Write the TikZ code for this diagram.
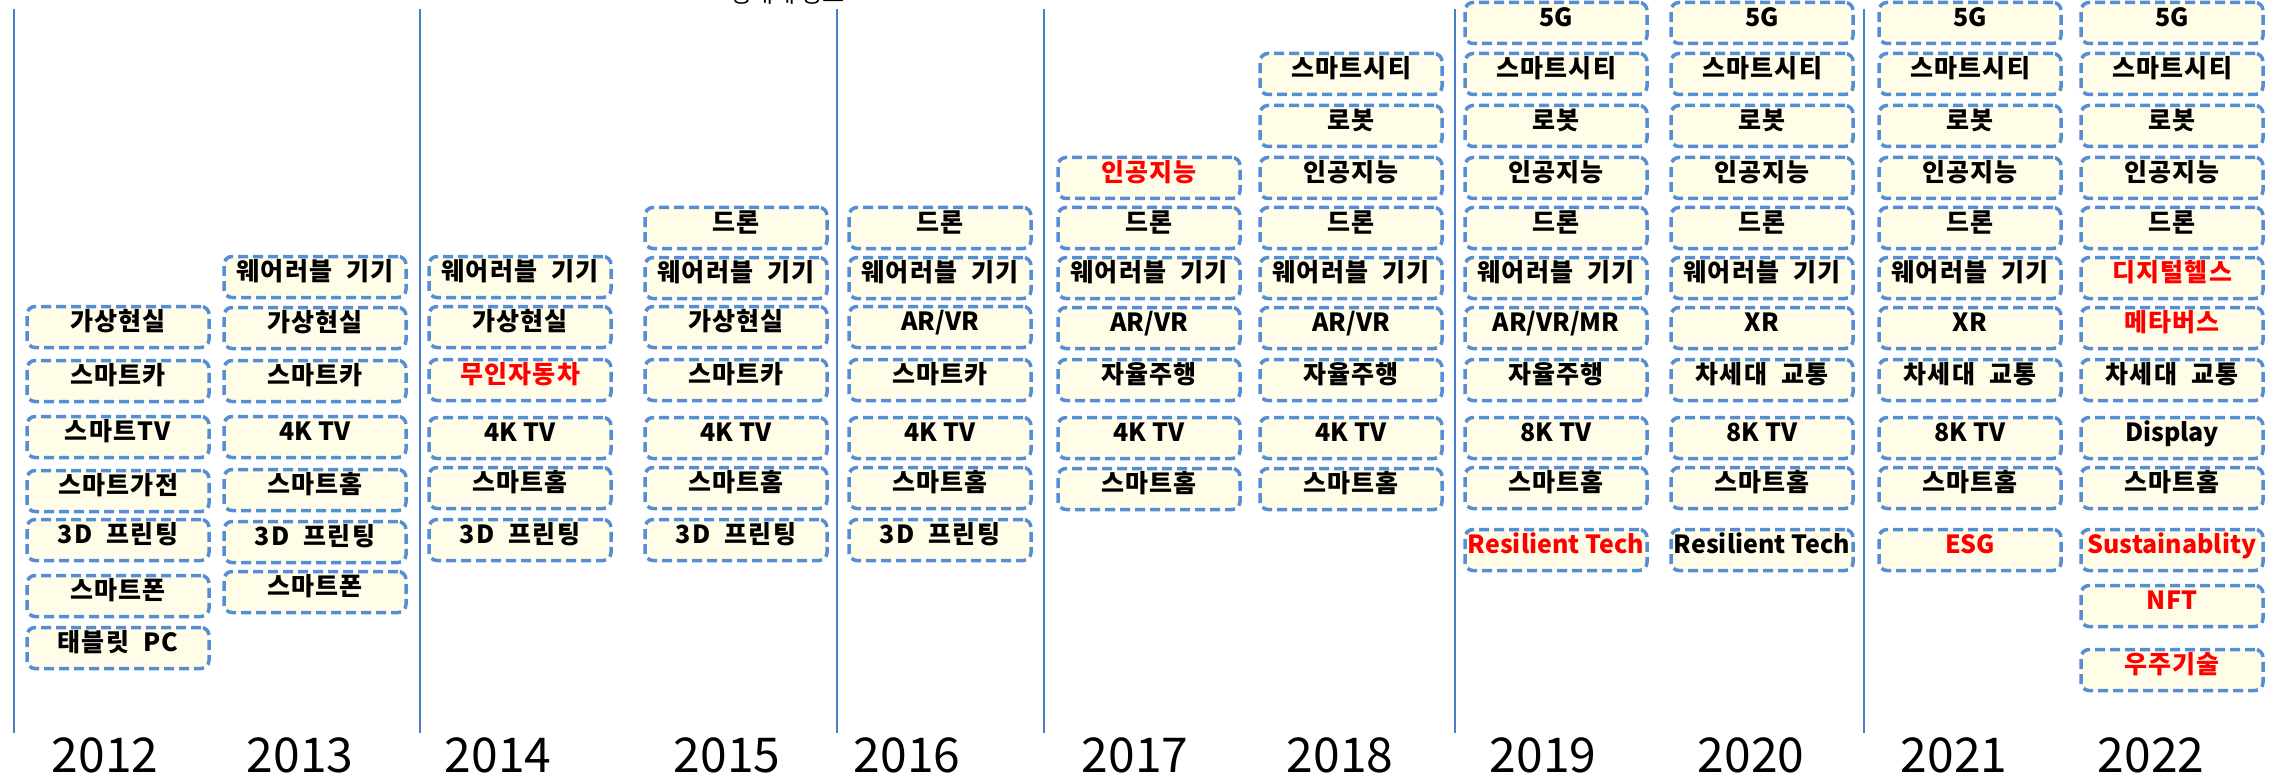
\documentclass[tikz,border=0pt]{standalone}
\usepackage{fontspec}
\newfontfamily\kr{Noto Sans CJK KR}
\newfontfamily\krs[LetterSpace=5,WordSpace=2]{Noto Sans CJK KR}
\definecolor{boxblue}{RGB}{85,142,213}
\definecolor{boxfill}{RGB}{255,253,231}
\definecolor{linblue}{RGB}{74,126,198}
\definecolor{txtred}{RGB}{255,0,0}
\tikzset{
  tbox/.style={draw=boxblue, line width=3.5pt, dash pattern=on 10pt off 5pt,
    rounded corners=8pt, fill=boxfill, minimum width=182pt, minimum height=41pt,
    inner sep=0pt, text height=0.82em, text depth=0.08em,
    font=\krs\bfseries\fontsize{25}{30}\selectfont},
  lat/.style={font=\kr\bfseries\fontsize{25}{30}\selectfont},
  yearlbl/.style={font=\kr\fontsize{48}{52}\selectfont, anchor=base, inner sep=0pt},
  vline/.style={draw=linblue, line width=2pt},
  toplbl/.style={font=\kr\fontsize{24}{28}\selectfont, anchor=base, inner sep=0pt}
}
\newcommand\bx[5][black]{\node[tbox, text=#1] (#2) at (#3,#4) {#5};}
\newcommand\lx[5][black]{\node[tbox, lat, text=#1] (#2) at (#3,#4) {#5};}
\begin{document}
\begin{tikzpicture}[x=1pt,y=-1pt]
\useasboundingbox (0,0) rectangle (2293,778);
% vertical separators
\foreach \i/\xx in {1/14,2/420,3/837,4/1044,5/1455,6/1864}{
  \coordinate (t\i) at (\xx,9);
  \coordinate (b\i) at (\xx,733);
  \draw[vline] (t\i) -- (b\i);
}
\node[toplbl] (note) at (787,3) {생태계 정보};
% 2012
\bx{a1}{118}{327}{가상현실}
\bx{a2}{118}{381}{스마트카}
\bx{a3}{118}{437}{스마트TV}
\bx{a4}{118}{491}{스마트가전}
\bx{a5}{118}{540}{3D 프린팅}
\bx{a6}{118}{596}{스마트폰}
\bx{a7}{118}{648}{태블릿 PC}
% 2013
\bx{b0}{315}{277}{웨어러블 기기}
\bx{b1}{315}{328}{가상현실}
\bx{b2}{315}{381}{스마트카}
\lx{b3}{315}{437}{4K TV}
\bx{b4}{315}{490}{스마트홈}
\bx{b5}{315}{542}{3D 프린팅}
\bx{b6}{315}{592}{스마트폰}
% 2014
\bx{c0}{520}{277}{웨어러블 기기}
\bx{c1}{520}{327}{가상현실}
\bx[txtred]{c2}{520}{380}{무인자동차}
\lx{c3}{520}{438}{4K TV}
\bx{c4}{520}{488}{스마트홈}
\bx{c5}{520}{540}{3D 프린팅}
% 2015
\bx{d0}{736}{228}{드론}
\bx{d1}{736}{278}{웨어러블 기기}
\bx{d2}{736}{327}{가상현실}
\bx{d3}{736}{380}{스마트카}
\lx{d4}{736}{438}{4K TV}
\bx{d5}{736}{488}{스마트홈}
\bx{d6}{736}{540}{3D 프린팅}
% 2016
\bx{e0}{940}{228}{드론}
\bx{e1}{940}{278}{웨어러블 기기}
\lx{e2}{940}{327}{AR/VR}
\bx{e3}{940}{380}{스마트카}
\lx{e4}{940}{438}{4K TV}
\bx{e5}{940}{488}{스마트홈}
\bx{e6}{940}{540}{3D 프린팅}
% 2017
\bx[txtred]{f0}{1149}{178}{인공지능}
\bx{f1}{1149}{228}{드론}
\bx{f2}{1149}{278}{웨어러블 기기}
\lx{f3}{1149}{328}{AR/VR}
\bx{f4}{1149}{380}{자율주행}
\lx{f5}{1149}{438}{4K TV}
\bx{f6}{1149}{489}{스마트홈}
% 2018
\bx{g0}{1351}{74}{스마트시티}
\bx{g1}{1351}{126}{로봇}
\bx{g2}{1351}{178}{인공지능}
\bx{g3}{1351}{228}{드론}
\bx{g4}{1351}{278}{웨어러블 기기}
\lx{g5}{1351}{328}{AR/VR}
\bx{g6}{1351}{380}{자율주행}
\lx{g7}{1351}{438}{4K TV}
\bx{g8}{1351}{489}{스마트홈}
% 2019
\lx{h0}{1556}{23}{5G}
\bx{h1}{1556}{74}{스마트시티}
\bx{h2}{1556}{126}{로봇}
\bx{h3}{1556}{178}{인공지능}
\bx{h4}{1556}{228}{드론}
\bx{h5}{1556}{278}{웨어러블 기기}
\lx{h6}{1556}{328}{AR/VR/MR}
\bx{h7}{1556}{380}{자율주행}
\lx{h8}{1556}{438}{8K TV}
\bx{h9}{1556}{488}{스마트홈}
\lx[txtred]{h10}{1556}{550}{Resilient Tech}
% 2020
\lx{i0}{1762}{23}{5G}
\bx{i1}{1762}{74}{스마트시티}
\bx{i2}{1762}{126}{로봇}
\bx{i3}{1762}{178}{인공지능}
\bx{i4}{1762}{228}{드론}
\bx{i5}{1762}{278}{웨어러블 기기}
\lx{i6}{1762}{328}{XR}
\bx{i7}{1762}{380}{차세대 교통}
\lx{i8}{1762}{438}{8K TV}
\bx{i9}{1762}{488}{스마트홈}
\lx{i10}{1762}{550}{Resilient Tech}
% 2021
\lx{j0}{1970}{23}{5G}
\bx{j1}{1970}{74}{스마트시티}
\bx{j2}{1970}{126}{로봇}
\bx{j3}{1970}{178}{인공지능}
\bx{j4}{1970}{228}{드론}
\bx{j5}{1970}{278}{웨어러블 기기}
\lx{j6}{1970}{328}{XR}
\bx{j7}{1970}{380}{차세대 교통}
\lx{j8}{1970}{438}{8K TV}
\bx{j9}{1970}{488}{스마트홈}
\lx[txtred]{j10}{1970}{550}{ESG}
% 2022
\lx{k0}{2172}{23}{5G}
\bx{k1}{2172}{74}{스마트시티}
\bx{k2}{2172}{126}{로봇}
\bx{k3}{2172}{178}{인공지능}
\bx{k4}{2172}{228}{드론}
\bx[txtred]{k5}{2172}{278}{디지털헬스}
\bx[txtred]{k6}{2172}{328}{메타버스}
\bx{k7}{2172}{380}{차세대 교통}
\lx{k8}{2172}{438}{Display}
\bx{k9}{2172}{488}{스마트홈}
\lx[txtred]{k10}{2172}{550}{Sustainablity}
\lx[txtred]{k11}{2172}{606}{NFT}
\bx[txtred]{k12}{2172}{670}{우주기술}
% years
\foreach \n/\xx/\yr in {y1/105/2012,y2/300/2013,y3/498/2014,y4/727/2015,y5/907/2016,y6/1135/2017,y7/1340/2018,y8/1543/2019,y9/1751/2020,y10/1954/2021,y11/2151/2022}{
  \node[yearlbl] (\n) at (\xx,772) {\yr};
}
\end{tikzpicture}
\end{document}
